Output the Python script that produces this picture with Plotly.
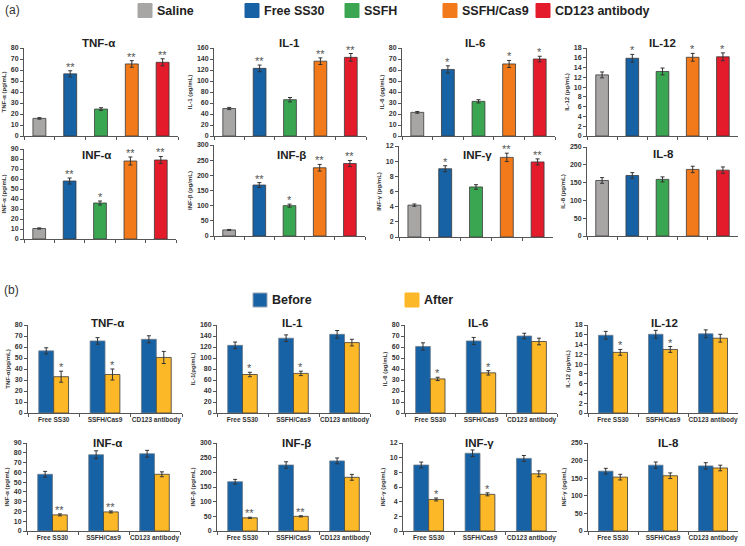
import plotly.graph_objects as go

W, H = 745, 546
FONT = "Liberation Sans, Arial, sans-serif"

# ---------------- data ----------------
groups_a = ["Saline", "Free SS30", "SSFH", "SSFH/Cas9", "CD123 antibody"]
colors_a = ["#a8a5a5", "#1761a5", "#3ba651", "#f27a1a", "#e31b2b"]
groups_b = ["Free SS30", "SSFH/Cas9", "CD123 antibody"]
series_b = ["Before", "After"]
colors_b = ["#1761a5", "#fdb827"]

# panel (a): mean, error, significance
tnf_a = [16, 56.5, 24.5, 65.5, 67]
tnf_a_err = [0.7, 2.8, 1.2, 3.0, 3.2]
tnf_a_sig = ["", "**", "", "**", "**"]
il1_a = [50, 123, 66, 136, 143]
il1_a_err = [2, 6, 4, 6, 7]
il1_a_sig = ["", "**", "", "**", "**"]
il6_a = [21.5, 60.5, 31.5, 65.5, 70]
il6_a_err = [0.8, 3.3, 1.5, 3.2, 2.5]
il6_a_sig = ["", "*", "", "*", "*"]
il12_a = [12.5, 15.9, 13.2, 16.1, 16.2]
il12_a_err = [0.6, 0.8, 0.7, 0.8, 0.8]
il12_a_sig = ["", "*", "", "*", "*"]
infa_a = [10.5, 58, 36, 78, 79]
infa_a_err = [0.6, 3, 2, 4, 3.5]
infa_a_sig = ["", "**", "*", "**", "**"]
infb_a = [20, 168, 100, 225, 239]
infb_a_err = [1.5, 8, 5, 11, 10]
infb_a_sig = ["", "**", "*", "**", "**"]
infg_a = [4.2, 9.0, 6.6, 10.5, 9.9]
infg_a_err = [0.15, 0.4, 0.3, 0.55, 0.4]
infg_a_sig = ["", "*", "", "**", "**"]
il8_a = [156, 170, 159, 187, 185]
il8_a_err = [8, 8, 7, 9, 9]
il8_a_sig = ["", "", "", "", ""]

# panel (b): before / after
tnf_before = [56.5, 65.5, 67]
tnf_before_err = [2.8, 3.0, 3.2]
tnf_after = [33, 35, 50.5]
tnf_after_err = [5, 5, 5.5]
tnf_after_sig = ["*", "*", ""]
il1_before = [123, 136, 143]
il1_before_err = [6, 6, 7]
il1_after = [70, 72, 128]
il1_after_err = [4, 4, 6]
il1_after_sig = ["*", "*", ""]
il6_before = [60.5, 65.5, 70]
il6_before_err = [3.3, 3.2, 2.5]
il6_after = [31, 36.5, 65]
il6_after_err = [1.5, 2, 3]
il6_after_sig = ["*", "*", ""]
il12_before = [15.9, 16.1, 16.2]
il12_before_err = [0.8, 0.8, 0.8]
il12_after = [12.4, 13.0, 15.3]
il12_after_err = [0.6, 0.6, 0.8]
il12_after_sig = ["*", "*", ""]
infa_before = [58, 78, 79]
infa_before_err = [3, 4, 3.5]
infa_after = [16.5, 19.5, 58]
infa_after_err = [1, 1, 2.5]
infa_after_sig = ["**", "**", ""]
infb_before = [168, 225, 239]
infb_before_err = [8, 11, 10]
infb_after = [45, 50, 183]
infb_after_err = [2, 2, 10]
infb_after_sig = ["**", "**", ""]
infg_before = [9.0, 10.6, 9.9]
infg_before_err = [0.4, 0.45, 0.4]
infg_after = [4.3, 5.0, 7.8]
infg_after_err = [0.2, 0.2, 0.4]
infg_after_sig = ["*", "*", ""]
il8_before = [170, 187, 185]
il8_before_err = [8, 9, 9]
il8_after = [153, 157, 179]
il8_after_err = [8, 8, 8]
il8_after_sig = ["", "", ""]

titles = ["TNF-α", "IL-1", "IL-6", "IL-12", "INF-α", "INF-β", "INF-γ", "IL-8"]
ytitles_a = ["TNF-α (pg/mL)", "IL-1 (pg/mL)", "IL-6 (pg/mL)", "IL-12 (pg/mL)",
             "INF-α (pg/mL)", "INF-β (pg/mL)", "INF-γ (pg/mL)", "IL-8 (pg/mL)"]
ytitles_b = ["TNF-α(pg/mL)", "IL-1(pg/mL)", "IL-6 (pg/mL)", "IL-12 (pg/mL)",
             "INF-α (pg/mL)", "INF-β (pg/mL)", "INF-γ (pg/mL)", "INF-γ (pg/mL)"]
ymax = [80, 160, 80, 18, 90, 300, 12, 250]
ystep = [10, 20, 10, 2, 10, 50, 2, 50]

data_a = [(tnf_a, tnf_a_err, tnf_a_sig), (il1_a, il1_a_err, il1_a_sig),
          (il6_a, il6_a_err, il6_a_sig), (il12_a, il12_a_err, il12_a_sig),
          (infa_a, infa_a_err, infa_a_sig), (infb_a, infb_a_err, infb_a_sig),
          (infg_a, infg_a_err, infg_a_sig), (il8_a, il8_a_err, il8_a_sig)]
data_b = [(tnf_before, tnf_before_err, tnf_after, tnf_after_err, tnf_after_sig),
          (il1_before, il1_before_err, il1_after, il1_after_err, il1_after_sig),
          (il6_before, il6_before_err, il6_after, il6_after_err, il6_after_sig),
          (il12_before, il12_before_err, il12_after, il12_after_err, il12_after_sig),
          (infa_before, infa_before_err, infa_after, infa_after_err, infa_after_sig),
          (infb_before, infb_before_err, infb_after, infb_after_err, infb_after_sig),
          (infg_before, infg_before_err, infg_after, infg_after_err, infg_after_sig),
          (il8_before, il8_before_err, il8_after, il8_after_err, il8_after_sig)]

# ---------------- layout geometry (pixels) ----------------
boxes_a = [(24, 178, 48, 136), (214, 366, 48, 136), (402, 555, 48, 136), (587, 738, 48, 136),
           (24, 176, 149, 239), (214, 365, 145, 236), (399, 553, 146, 237), (587, 738, 147, 236)]
tpos_a = [(98, 43), (289, 43), (475, 43), (662, 43), (97, 155), (291, 155), (477, 155), (663, 154)]
boxes_b = [(28, 182, 325, 413), (217, 370, 325, 413), (405, 557, 325, 413), (588, 738, 325, 413),
           (27, 180, 443, 531), (217, 370, 443, 531), (403, 557, 443, 531), (588, 738, 443, 531)]
tpos_b = [(107, 323), (292, 323), (478, 323), (664, 323), (107, 443), (296, 443), (480, 443), (668, 443)]

fig = go.Figure()
layout = dict(width=W, height=H, margin=dict(l=0, r=0, t=0, b=0),
              paper_bgcolor="white", plot_bgcolor="white", barmode="overlay",
              showlegend=False, font=dict(family=FONT, color="#333"))
annotations = []
shapes = []

AX = "#555"


def axes(n, box, k, labels):
    x0, x1, yt, yb = box
    sfx = "" if n == 1 else str(n)
    layout["xaxis" + sfx] = dict(
        domain=[x0 / W, x1 / W], anchor="y" + sfx, type="category",
        showline=True, linecolor=AX, linewidth=1, ticks="outside", tickson="boundaries",
        ticklen=3, tickcolor=AX, showgrid=False, zeroline=False, tickangle=0,
        showticklabels=labels, tickfont=dict(size=6.5, weight="bold", color="#333"),
        automargin=False, fixedrange=True)
    layout["yaxis" + sfx] = dict(
        domain=[1 - yb / H, 1 - yt / H], anchor="x" + sfx, range=[0, ymax[k]],
        tick0=0, dtick=ystep[k], showline=True, linecolor=AX, linewidth=1,
        ticks="outside", ticklen=3, tickcolor=AX, showgrid=False, zeroline=False,
        tickfont=dict(size=7, weight="bold", color="#333"), automargin=False,
        fixedrange=True)
    return "x" + sfx, "y" + sfx


def star(xa, ya, x, y, s, xshift=0):
    annotations.append(dict(x=x, y=y, xref=xa, yref=ya, text=s, showarrow=False,
                            yanchor="bottom", xshift=xshift, yshift=-4,
                            font=dict(size=11, color="#555")))


def title(pos, text):
    annotations.append(dict(x=pos[0] / W, y=1 - pos[1] / H, xref="paper", yref="paper",
                            text="<b>" + text + "</b>", showarrow=False,
                            xanchor="center", yanchor="middle",
                            font=dict(size=11.5, color="#222")))


# panel (a)
for k in range(8):
    n = k + 1
    xa, ya = axes(n, boxes_a[k], k, False)
    layout["yaxis" + ("" if n == 1 else str(n))]["title"] = dict(
        text=ytitles_a[k], font=dict(size=6, weight="bold", color="#333"), standoff=3)
    vals, err, sig = data_a[k]
    fig.add_trace(go.Bar(x=groups_a, y=vals, width=0.42,
                         marker=dict(color=colors_a, line=dict(color="#3a3a3a", width=0.8)),
                         error_y=dict(type="data", array=err, color="#333", thickness=1, width=2),
                         xaxis=xa, yaxis=ya))
    for j, s in enumerate(sig):
        if s:
            star(xa, ya, groups_a[j], vals[j] + err[j], s)
    title(tpos_a[k], titles[k])

# panel (b)
BW = 0.29
for k in range(8):
    n = k + 9
    xa, ya = axes(n, boxes_b[k], k, True)
    layout["yaxis" + str(n)]["title"] = dict(
        text=ytitles_b[k], font=dict(size=6, weight="bold", color="#333"), standoff=3)
    bv, be, av, ae, sig = data_b[k]
    fig.add_trace(go.Bar(x=groups_b, y=bv, width=BW, offset=-BW, name=series_b[0],
                         marker=dict(color=colors_b[0], line=dict(color="#6d7c8a", width=0.8)),
                         error_y=dict(type="data", array=be, color="#333", thickness=1, width=2),
                         xaxis=xa, yaxis=ya))
    fig.add_trace(go.Bar(x=groups_b, y=av, width=BW, offset=0, name=series_b[1],
                         marker=dict(color=colors_b[1], line=dict(color="#3a3a3a", width=0.8)),
                         error_y=dict(type="data", array=ae, color="#333", thickness=1, width=2),
                         xaxis=xa, yaxis=ya))
    pw = boxes_b[k][1] - boxes_b[k][0]
    for j, s in enumerate(sig):
        if s:
            star(xa, ya, groups_b[j], av[j] + ae[j], s, xshift=BW / 2 * pw / len(groups_b))
    title(tpos_b[k], titles[k])


# legends drawn as boxes + text
def legend_item(x, ymid, color, text, line):
    shapes.append(dict(type="rect", xref="paper", yref="paper",
                       x0=x / W, x1=(x + 14) / W, y0=1 - (ymid + 7) / H, y1=1 - (ymid - 7) / H,
                       fillcolor=color, line=dict(color=line, width=1)))
    annotations.append(dict(x=(x + 17) / W, y=1 - ymid / H, xref="paper", yref="paper",
                            text="<b>" + text + "</b>", showarrow=False,
                            xanchor="left", yanchor="middle",
                            font=dict(size=12.5, color="#222")))


leg_x_a = [138, 245, 345, 443, 536]
for g, c, x in zip(groups_a, colors_a, leg_x_a):
    legend_item(x, 10.5, c, g, c)
leg_x_b = [253, 405]
for g, c, x in zip(series_b, colors_b, leg_x_b):
    legend_item(x, 300, c, g, "#9aa6b2" if g == "Before" else c)

annotations.append(dict(x=3 / W, y=1 - 10 / H, xref="paper", yref="paper", text="(a)",
                        showarrow=False, xanchor="left", yanchor="middle",
                        font=dict(size=12, color="#333")))
annotations.append(dict(x=2 / W, y=1 - 290 / H, xref="paper", yref="paper", text="(b)",
                        showarrow=False, xanchor="left", yanchor="middle",
                        font=dict(size=12, color="#333")))

layout["annotations"] = annotations
layout["shapes"] = shapes
fig.update_layout(**layout)
fig.write_html("out.html", config={"displayModeBar": False},
               post_script="document.body.style.margin='0';document.body.style.overflow='hidden';")
